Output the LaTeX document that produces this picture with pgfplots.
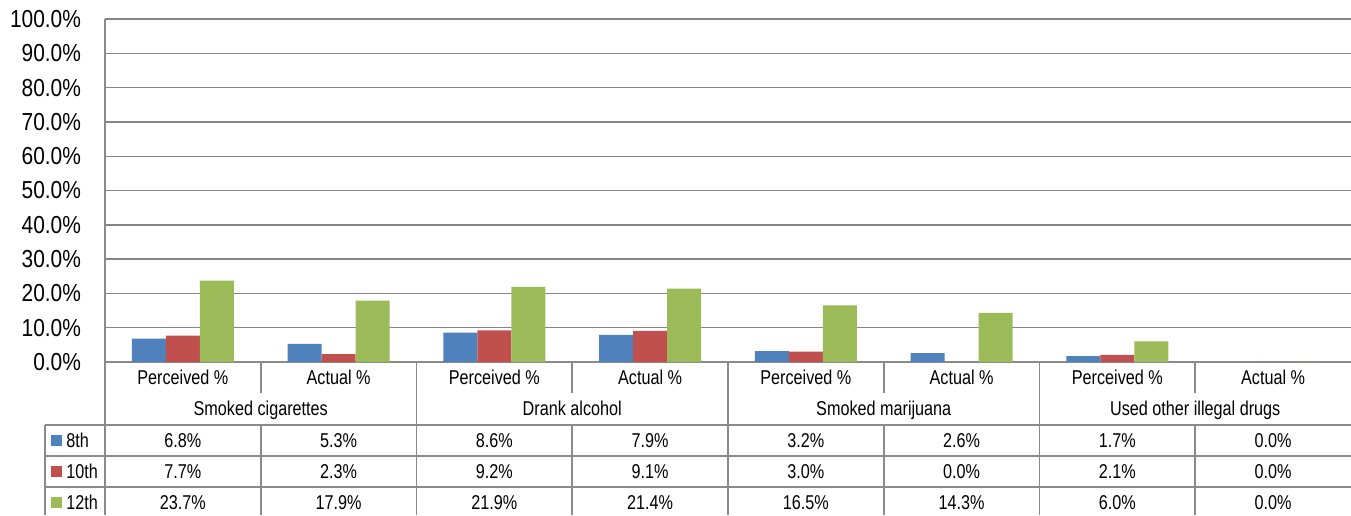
\documentclass[border=0pt]{standalone}
\usepackage{pgfplots}
\pgfplotsset{compat=1.18}
\usepackage{fontspec}
\setmainfont{Liberation Sans}
\newfontfamily\tabfont[FakeStretch=0.81]{Liberation Sans}
\newfontfamily\tickfont[FakeStretch=0.85]{Liberation Sans}
\definecolor{c8}{HTML}{4F81BD}
\definecolor{c10}{HTML}{C0504D}
\definecolor{c12}{HTML}{9BBB59}
\definecolor{gridc}{HTML}{868686}
\definecolor{tabc}{HTML}{8A8A8A}
\begin{document}
\begin{tikzpicture}
\path[use as bounding box] (0pt,0pt) rectangle (675.5pt,-257.5pt);
\begin{axis}[
  at={(52.5pt,-181pt)}, anchor=south west,
  width=623pt, height=171.5pt, scale only axis,
  xmin=-0.5, xmax=7.5, ymin=0, ymax=100,
  xtick=\empty,
  ytick={0,10,...,100},
  major tick length=0pt,
  ymajorgrids, grid style={gridc, line width=0.7pt},
  axis lines*=left,
  axis line style={tabc, line width=0.8pt, -},
  /pgf/number format/assume math mode=true,
  yticklabel={\pgfmathprintnumber[fixed,fixed zerofill,precision=1]{\tick}\%},
  yticklabel style={font=\tickfont\fontsize{12.3pt}{14pt}\selectfont, anchor=east, xshift=-8.5pt},
  ybar=0pt, bar width=17pt,
  clip=false,
]
\addplot[fill=c8, draw=none] coordinates {(0,6.8) (1,5.3) (2,8.6) (3,7.9) (4,3.2) (5,2.6) (6,1.7) (7,0.0)};
\addplot[fill=c10, draw=none] coordinates {(0,7.7) (1,2.3) (2,9.2) (3,9.1) (4,3.0) (5,0.0) (6,2.1) (7,0.0)};
\addplot[fill=c12, draw=none] coordinates {(0,23.7) (1,17.9) (2,21.9) (3,21.4) (4,16.5) (5,14.3) (6,6.0) (7,0.0)};
\end{axis}
\begin{scope}[x=0.5pt,y=-0.5pt]
% table lines
\begin{scope}[draw=tabc, line width=0.8pt]
\draw (45,425) -- (1351,425);
\draw (45,456) -- (1351,456);
\draw (45,487) -- (1351,487);
\draw (45,425) -- (45,515);
\draw (105,362) -- (105,515);
\foreach \k in {1,3,5,7} {
  \draw ({105+155.75*\k},362) -- ({105+155.75*\k},393);
  \draw ({105+155.75*\k},425) -- ({105+155.75*\k},515);
}
\foreach \k in {2,4,6} {
  \draw ({105+155.75*\k},362) -- ({105+155.75*\k},515);
}
\end{scope}
% table text
\begin{scope}[every node/.style={font=\tabfont\fontsize{10pt}{12pt}\selectfont, anchor=base, inner sep=0pt}]
\foreach \k/\t in {0/Perceived \%,1/Actual \%,2/Perceived \%,3/Actual \%,4/Perceived \%,5/Actual \%,6/Perceived \%,7/Actual \%}
  \node at ({105+155.75*(\k+0.5)},384.5) {\t};
\foreach \g/\t in {0/Smoked cigarettes,1/Drank alcohol,2/Smoked marijuana,3/Used other illegal drugs}
  \node at ({105+311.5*(\g+0.5)},415.5) {\t};
\foreach \k/\v in {0/6.8,1/5.3,2/8.6,3/7.9,4/3.2,5/2.6,6/1.7,7/0.0}
  \node at ({105+155.75*(\k+0.5)},447) {\v\%};
\foreach \k/\v in {0/7.7,1/2.3,2/9.2,3/9.1,4/3.0,5/0.0,6/2.1,7/0.0}
  \node at ({105+155.75*(\k+0.5)},478) {\v\%};
\foreach \k/\v in {0/23.7,1/17.9,2/21.9,3/21.4,4/16.5,5/14.3,6/6.0,7/0.0}
  \node at ({105+155.75*(\k+0.5)},509) {\v\%};
\node[anchor=base west] at (66,447) {8th};
\node[anchor=base west] at (66,478) {10th};
\node[anchor=base west] at (66,509) {12th};
\end{scope}
\fill[c8] (51,435) rectangle (62,446);
\fill[c10] (51,466) rectangle (62,477);
\fill[c12] (51,497) rectangle (62,508);
\end{scope}
\end{tikzpicture}
\end{document}
